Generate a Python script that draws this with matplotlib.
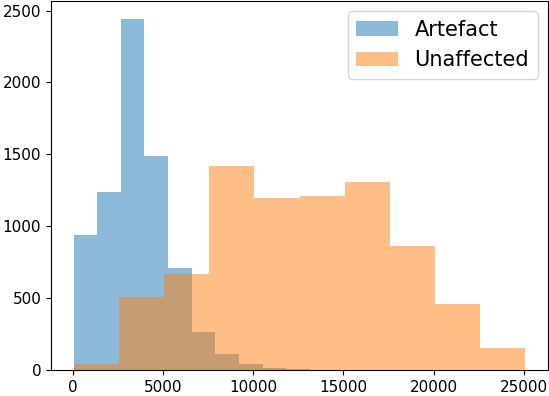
import matplotlib
matplotlib.use("Agg")
import matplotlib.pyplot as plt

# bin edges and counts
artefact_edges = [40, 1350, 2660, 3970, 5280, 6590, 7900, 9210, 10520, 11830, 13140]
artefact_counts = [937, 1236, 2444, 1486, 708, 264, 111, 42, 14, 7]

unaffected_edges = [40, 2545, 5050, 7555, 10060, 12565, 15070, 17575, 20080, 22585, 25090]
unaffected_counts = [42, 507, 667, 1417, 1194, 1208, 1306, 861, 458, 153]

fig = plt.figure(figsize=(5.49, 3.96), dpi=100)
ax = fig.add_subplot(1, 1, 1)
fig.subplots_adjust(left=51 / 549, right=548 / 549, top=1 - 1 / 396, bottom=1 - 370 / 396)

mids_a = [(artefact_edges[i] + artefact_edges[i + 1]) / 2 for i in range(len(artefact_counts))]
mids_u = [(unaffected_edges[i] + unaffected_edges[i + 1]) / 2 for i in range(len(unaffected_counts))]

ax.hist(mids_a, bins=artefact_edges, weights=artefact_counts, alpha=0.5, label="Artefact")
ax.hist(mids_u, bins=unaffected_edges, weights=unaffected_counts, alpha=0.5, label="Unaffected")

ax.tick_params(labelsize=11)
ax.legend(fontsize=15)

fig.savefig("out.png", dpi=100)
